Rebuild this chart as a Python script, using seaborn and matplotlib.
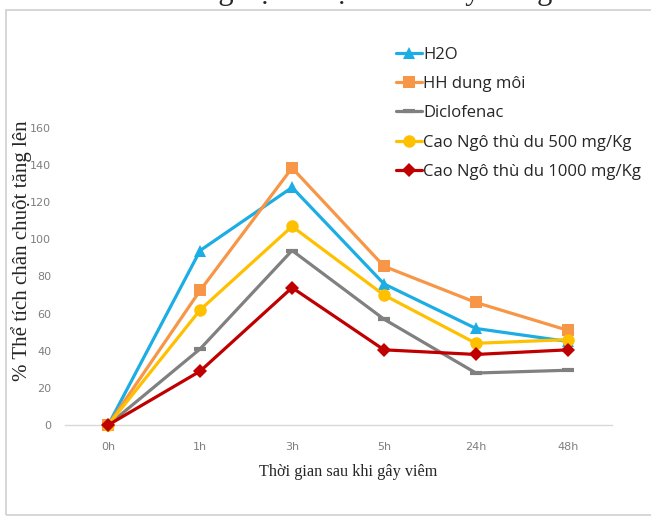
import numpy as np
import pandas as pd
import seaborn as sns
import matplotlib.pyplot as plt
import matplotlib.patches as mpatches

times = ['0h', '1h', '3h', '5h', '24h', '48h']
h2o = [0, 94, 128, 76, 52, 45]
hh_dung_moi = [0, 72.5, 138.5, 85.5, 66, 51]
diclofenac = [0, 41, 94, 57, 28, 29.5]
cao_500 = [0, 62, 107, 70, 44, 46]
cao_1000 = [0, 29, 74, 40.5, 38, 40.5]

series = [
    ('H2O', h2o, '#1CADE4', '^'),
    ('HH dung môi', hh_dung_moi, '#F79646', 's'),
    ('Diclofenac', diclofenac, '#808080', '_'),
    ('Cao Ngô thù du 500 mg/Kg', cao_500, '#FFC000', 'o'),
    ('Cao Ngô thù du 1000 mg/Kg', cao_1000, '#C00000', 'D'),
]

sns.set_style('white')
fig = plt.figure(figsize=(6.51, 5.16), dpi=100)
ax = fig.add_axes([65 / 651, (516 - 425) / 516, (612 - 65) / 651, (425 - 128) / 516])

pos = np.arange(len(times))
for name, vals, color, marker in series:
    df = pd.DataFrame({'x': pos, 'y': vals})
    ms = 9 if marker != 'D' else 7.5
    mew = 3 if marker == '_' else 0
    sns.lineplot(x='x', y='y', data=df, ax=ax, color=color, marker=marker,
                 markersize=ms, markeredgewidth=mew, markeredgecolor=color,
                 linewidth=2.3, label=name, clip_on=False)

ax.set_xlim(-0.47, 5.48)
ax.set_ylim(0, 160)
ax.set_xticks(pos)
ax.set_xticklabels(times)
ax.set_yticks(range(0, 161, 20))
ax.tick_params(axis='both', length=0, labelsize=8, labelcolor='#7F7F7F')
ax.tick_params(axis='x', pad=12)
ax.tick_params(axis='y', pad=10)
for s in ['top', 'right', 'left']:
    ax.spines[s].set_visible(False)
ax.spines['bottom'].set_color('#D9D9D9')
ax.spines['bottom'].set_linewidth(1)
ax.spines['bottom'].set_zorder(0)

ax.set_xlabel('Thời gian sau khi gây viêm', family='Liberation Serif', fontsize=11.7)
ax.xaxis.set_label_coords(283 / 547, -39 / 297)
ax.set_ylabel('% Thể tích chân chuột tăng lên', family='Liberation Serif', fontsize=15)
ax.yaxis.set_label_coords(-33 / 547, 0.586)

leg = ax.legend(loc='upper left', bbox_to_anchor=(389 / 651, 1 - 40 / 516),
                bbox_transform=fig.transFigure, frameon=False,
                prop={'family': 'Open Sans', 'size': 12}, handlelength=1.55,
                handletextpad=0.1, labelspacing=0.8, borderaxespad=0)

# outer frame of the embedded chart
fig.patches.append(mpatches.Rectangle((6 / 651, 1 / 516), 700 / 651, (506 - 1) / 516,
                                      transform=fig.transFigure, fill=False,
                                      edgecolor='#D0D0D0', linewidth=1.2))

# cut-off text line from the document above the chart
fig.text(-1 / 651, 1 + 1.5 / 516, 'số của các lô thí nghiệm được trình bày trong Hình',
         family='Liberation Serif', fontsize=22, va='baseline', ha='left')

fig.savefig('out.png', dpi=100)
